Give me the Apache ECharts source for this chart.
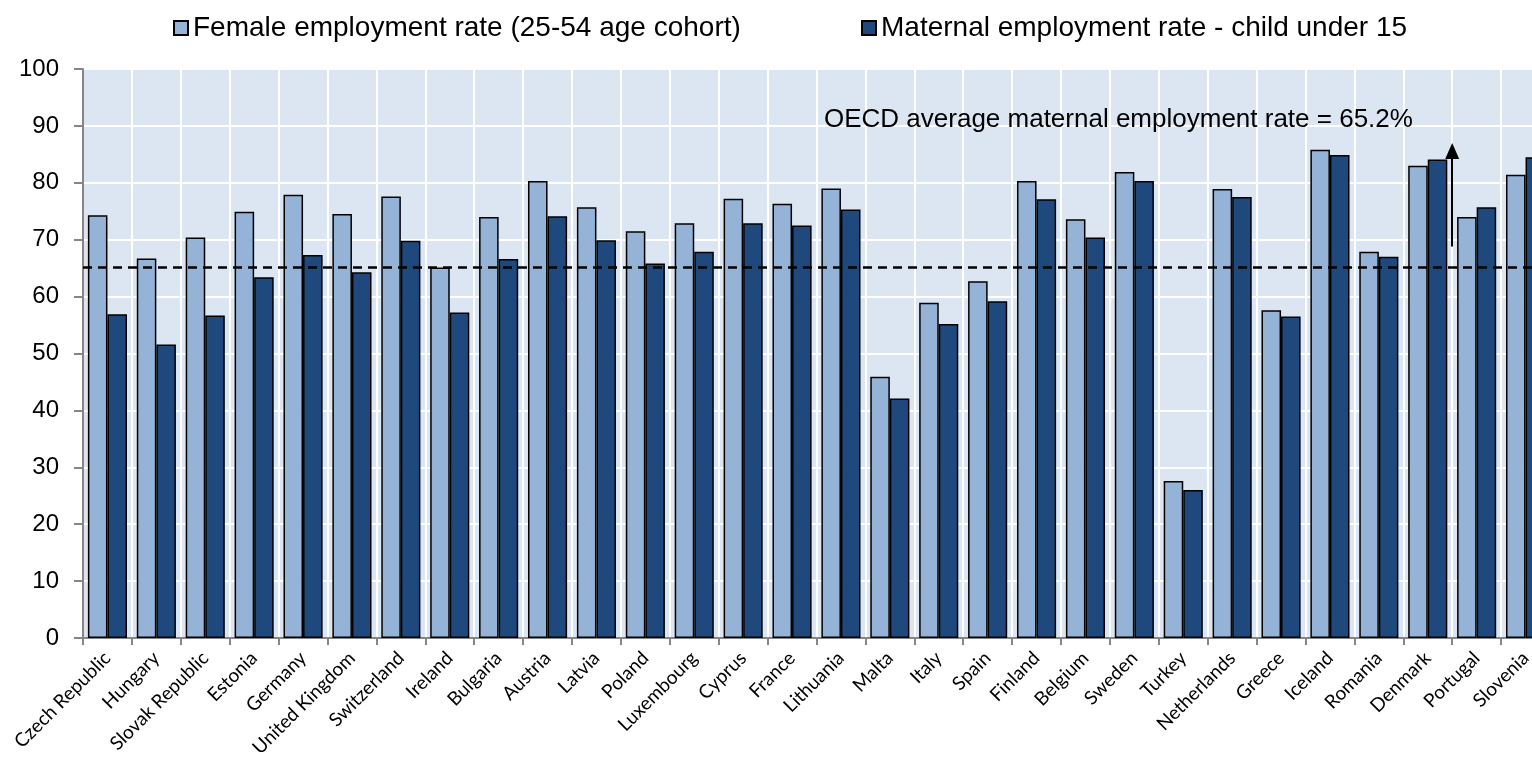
<!DOCTYPE html>
<html>
<head>
<meta charset="utf-8">
<script src="https://cdn.jsdelivr.net/npm/echarts@6/dist/echarts.min.js"></script>
<style>
html,body{margin:0;padding:0;background:#fff;overflow:hidden;width:1532px;height:763px;}
#chart{width:1550px;height:763px;}
</style>
</head>
<body>
<div id="chart"></div>
<script>
const categories = ["Czech Republic","Hungary","Slovak Republic","Estonia","Germany","United Kingdom","Switzerland","Ireland","Bulgaria","Austria","Latvia","Poland","Luxembourg","Cyprus","France","Lithuania","Malta","Italy","Spain","Finland","Belgium","Sweden","Turkey","Netherlands","Greece","Iceland","Romania","Denmark","Portugal","Slovenia"];
const femaleRate = [74.3,66.7,70.4,74.9,77.9,74.5,77.6,65.1,74.0,80.3,75.7,71.5,72.9,77.2,76.3,79.0,45.9,58.9,62.7,80.3,73.6,81.9,27.6,78.9,57.6,85.8,67.9,83.0,74.0,81.4];
const maternalRate = [56.9,51.6,56.7,63.4,67.3,64.3,69.8,57.2,66.6,74.1,69.9,65.8,67.9,72.9,72.5,75.3,42.1,55.2,59.2,77.1,70.4,80.3,26.0,77.5,56.5,84.9,67.0,84.1,75.7,84.5];
const seriesNames = ["Female employment rate (25-54 age cohort)","Maternal employment rate - child under 15"];
const oecdAverage = 65.2;
const annotationText = "OECD average maternal employment rate = 65.2%";
const arrowX = 28.0;      // position along the categories (0..30): Denmark/Portugal boundary
const arrowFrom = 68.8;
const arrowTo = 85.6;
const yTicks = {min:0, max:100, interval:10};

const chart = echarts.init(document.getElementById('chart'), null, {renderer:'canvas'});
const font = 'Liberation Sans, Arial, sans-serif';
const legendBase = {
  top:14, padding:0, itemWidth:14, itemHeight:14, icon:'rect',
  textStyle:{fontFamily:font, fontSize:28, color:'#000'}
};
chart.setOption({
  animation:false,
  backgroundColor:'#ffffff',
  legend:[
    Object.assign({left:173, data:[seriesNames[0]]}, legendBase),
    Object.assign({left:861, data:[seriesNames[1]]}, legendBase)
  ],
  grid:{left:83, top:69, bottom:125, right:0, show:true, backgroundColor:'#DCE6F2', borderWidth:0},
  xAxis:[{
    type:'category', data:categories, boundaryGap:true,
    axisLine:{lineStyle:{color:'#868686', width:2}},
    axisTick:{show:true, length:7, lineStyle:{color:'#868686', width:2}, interval:0},
    splitLine:{show:true, interval:0, lineStyle:{color:'#ffffff', width:2}},
    axisLabel:{interval:0, rotate:45, margin:17, fontFamily:'Lato, sans-serif', fontSize:19, color:'#000'}
  },{
    type:'value', min:0, max:categories.length, show:false
  }],
  yAxis:{
    type:'value', min:yTicks.min, max:yTicks.max, interval:yTicks.interval,
    axisLine:{show:true, lineStyle:{color:'#868686', width:2}},
    axisTick:{show:true, length:9, lineStyle:{color:'#868686', width:2}},
    splitLine:{show:true, lineStyle:{color:'#ffffff', width:2}},
    axisLabel:{margin:24, fontFamily:font, fontSize:24, color:'#000'}
  },
  graphic:[{
    type:'text', left:824, top:107, z:100,
    style:{text:annotationText, font:'26px "Liberation Sans", Arial, sans-serif', fill:'#000'}
  }],
  series:[{
    name:seriesNames[0], type:'bar', data:femaleRate,
    barGap:'0%', barCategoryGap:'20%',
    itemStyle:{color:'#95B3D7', borderColor:'#000', borderWidth:1.5},
    markLine:{
      silent:true, symbol:['none','none'], label:{show:false},
      lineStyle:{color:'#000', type:[9,6], width:2.5},
      data:[{yAxis:oecdAverage}]
    }
  },{
    name:seriesNames[1], type:'bar', data:maternalRate,
    itemStyle:{color:'#1F497D', borderColor:'#000', borderWidth:1.5}
  },{
    name:'arrow', type:'line', xAxisIndex:1, data:[],
    markLine:{
      silent:true, symbol:['none','triangle'], symbolSize:[14,16], label:{show:false},
      lineStyle:{color:'#000', type:'solid', width:2},
      data:[[{coord:[arrowX, arrowFrom]},{coord:[arrowX, arrowTo]}]]
    }
  }]
});
</script>
</body>
</html>
